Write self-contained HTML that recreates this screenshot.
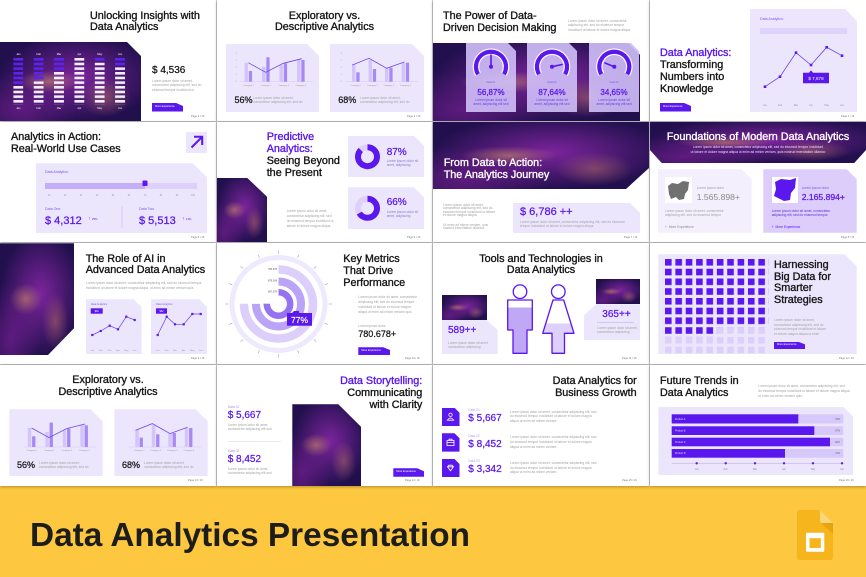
<!DOCTYPE html>
<html><head><meta charset="utf-8">
<style>
*{margin:0;padding:0;box-sizing:border-box}
html,body{width:866px;height:577px;overflow:hidden}
body{position:relative;background:#dfdfe3;font-family:"Liberation Sans",sans-serif}
body>div{position:absolute}
.s{background:#fff;box-shadow:0 1px 3px rgba(0,0,0,.3)}
.fl{background:radial-gradient(ellipse 22% 14% at 35% 50%,rgba(215,150,100,.55),rgba(215,150,100,0)),radial-gradient(ellipse 18% 25% at 75% 70%,rgba(205,130,100,.42),rgba(205,130,100,0)),radial-gradient(ellipse 55% 55% at 55% 45%,rgba(140,40,170,.85),rgba(140,40,170,0)),radial-gradient(ellipse 40% 50% at 15% 85%,rgba(110,30,140,.8),rgba(110,30,140,0)),#22104e}
.pn{background:#ece6fd}
.c8{clip-path:polygon(0 0,calc(100% - 8px) 0,100% 8px,100% 100%,0 100%)}
.c10{clip-path:polygon(0 0,calc(100% - 10px) 0,100% 10px,100% 100%,0 100%)}
.c12{clip-path:polygon(0 0,calc(100% - 12px) 0,100% 12px,100% 100%,0 100%)}
.c4{clip-path:polygon(0 0,calc(100% - 5px) 0,100% 5px,100% 100%,0 100%);background:#5a17ee}
.t{font-size:10.8px;line-height:11.8px;color:#151515;white-space:nowrap;-webkit-text-stroke:.35px #151515}
.tp{color:#5a17ee;-webkit-text-stroke-color:#5a17ee}
.tw{color:#fff;-webkit-text-stroke-color:#fff}
.lo{font-size:3.3px;line-height:4.4px;color:#a3a3a3;white-space:nowrap}
.sm{font-size:3.3px;line-height:1;color:#7b55f0;white-space:nowrap}
.v{font-size:10px;line-height:1;color:#5a17ee;white-space:nowrap;-webkit-text-stroke:.25px #5a17ee}
.k{color:#151515;-webkit-text-stroke-color:#151515}
.btn{background:#5a17ee;clip-path:polygon(0 0,78% 0,100% 35%,100% 100%,0 100%);color:#fff;font-size:2.6px;line-height:1;white-space:nowrap;padding:2.8px 0 0 3px}
.pg{font-size:2.6px;line-height:1;color:#777;white-space:nowrap}
svg{position:absolute;left:0;top:0}
</style></head><body>

<div style="left:0;top:486px;width:866px;height:91px;background:#fdc83f"></div>

<div class="s" style="left:0;top:0;width:216px;height:121px"></div>
<div class="s" style="left:217px;top:0;width:215px;height:121px"></div>
<div class="s" style="left:433px;top:0;width:216px;height:121px"></div>
<div class="s" style="left:650px;top:0;width:216px;height:121px"></div>
<div class="s" style="left:0;top:122px;width:216px;height:120px"></div>
<div class="s" style="left:217px;top:122px;width:215px;height:120px"></div>
<div class="s" style="left:433px;top:122px;width:216px;height:120px"></div>
<div class="s" style="left:650px;top:122px;width:216px;height:120px"></div>
<div class="s" style="left:0;top:243px;width:216px;height:121px"></div>
<div class="s" style="left:217px;top:243px;width:215px;height:121px"></div>
<div class="s" style="left:433px;top:243px;width:216px;height:121px"></div>
<div class="s" style="left:650px;top:243px;width:216px;height:121px"></div>
<div class="s" style="left:0;top:365px;width:216px;height:121px"></div>
<div class="s" style="left:217px;top:365px;width:215px;height:121px"></div>
<div class="s" style="left:433px;top:365px;width:216px;height:121px"></div>
<div class="s" style="left:650px;top:365px;width:216px;height:121px"></div>

<!-- Slide 1 -->
<div class="fl" style="left:0;top:42px;width:141px;height:79px;clip-path:polygon(0 0,127px 0,141px 14px,141px 79px,0 79px)"></div>
<div class="t" style="left:90px;top:10.8px;line-height:11.6px">Unlocking Insights with<br>Data Analytics</div>
<div class="v k" style="left:152px;top:65.8px">$ 4,536</div>
<div class="lo" style="left:152px;top:79px">Lorem ipsum dolor sit amet,<br>consectetur adipiscing elit, sed do<br>eiusmod tempor incididunt ut</div>
<div class="btn" style="left:152px;top:103px;width:31px;height:8.5px">More Experience</div>
<div class="pg" style="left:191px;top:115.5px">Page 1 / 16</div>

<!-- Slide 2 -->
<div class="t" style="left:217px;top:10.5px;width:215px;text-align:center">Exploratory vs.<br>Descriptive Analytics</div>
<div class="pn c12" style="left:226px;top:44px;width:93px;height:68px"></div>
<div class="pn c12" style="left:330px;top:44px;width:94px;height:68px"></div>
<div class="v k" style="left:234.5px;top:95.6px;font-size:9px">56%</div>
<div class="lo" style="left:253px;top:96px">Lorem ipsum dolor sit amet,<br>consectetur adipiscing elit, sed do</div>
<div class="v k" style="left:338.3px;top:95.6px;font-size:9px">68%</div>
<div class="lo" style="left:360px;top:96px">Lorem ipsum dolor sit amet,<br>consectetur adipiscing elit, sed do</div>
<div class="pg" style="left:407px;top:115.5px">Page 2 / 16</div>

<!-- Slide 3 -->
<div class="t" style="left:443px;top:10.2px;line-height:12px">The Power of Data-<br>Driven Decision Making</div>
<div class="lo" style="left:568px;top:18.5px;line-height:4.8px">Lorem ipsum dolor sit amet, consectetur<br>adipiscing elit, sed do eiusmod tempor<br>incididunt ut labore et dolore magna aliqua</div>
<div class="fl" style="left:433px;top:42.7px;width:207px;height:78.3px;clip-path:polygon(0 0,195px 0,207px 12px,207px 100%,0 100%)"></div>
<div class="c8" style="left:466px;top:43px;width:50px;height:69px;background:rgba(208,192,248,.9)"></div>
<div class="c8" style="left:527px;top:43px;width:50px;height:69px;background:rgba(208,192,248,.9)"></div>
<div class="c8" style="left:589px;top:43px;width:50px;height:69px;background:rgba(208,192,248,.9)"></div>
<div class="sm" style="left:466px;top:81.5px;width:50px;text-align:center;font-size:2.6px">Data 01</div>
<div class="sm" style="left:527px;top:81.5px;width:50px;text-align:center;font-size:2.6px">Data 02</div>
<div class="sm" style="left:589px;top:81.5px;width:50px;text-align:center;font-size:2.6px">Data 03</div>
<div class="v" style="left:466px;top:88.8px;width:50px;text-align:center;font-size:8px">56,87%</div>
<div class="v" style="left:527px;top:88.8px;width:50px;text-align:center;font-size:8px">87,64%</div>
<div class="v" style="left:589px;top:88.8px;width:50px;text-align:center;font-size:8px">34,65%</div>
<div class="lo" style="left:466px;top:97.5px;width:50px;text-align:center;color:#6a3cf0">Lorem ipsum dolor sit<br>amet, adipiscing elit sed</div>
<div class="lo" style="left:527px;top:97.5px;width:50px;text-align:center;color:#6a3cf0">Lorem ipsum dolor sit<br>amet, adipiscing elit sed</div>
<div class="lo" style="left:589px;top:97.5px;width:50px;text-align:center;color:#6a3cf0">Lorem ipsum dolor sit<br>amet, adipiscing elit sed</div>

<!-- Slide 4 -->
<div class="pn c12" style="left:750px;top:9px;width:107px;height:103px"></div>
<div class="sm" style="left:760px;top:18px;font-size:3.6px">Data Analytics:</div>
<div style="left:760px;top:28.3px;width:86.7px;height:6px;background:#ddd3fb"></div>
<div class="t" style="left:660px;top:47.8px;line-height:11.9px"><span class="tp">Data Analytics:</span><br>Transforming<br>Numbers into<br>Knowledge</div>
<div class="btn" style="left:660px;top:103px;width:31px;height:8.5px">More Experience</div>
<div class="pg" style="left:841px;top:115.5px">Page 4 / 16</div>

<!-- Slide 5 -->
<div class="t" style="left:11px;top:131.2px;line-height:12.3px">Analytics in Action:<br>Real-World Use Cases</div>
<div class="pn" style="left:186px;top:131.7px;width:21px;height:21px"></div>
<div class="pn" style="left:35.7px;top:163.3px;width:171.3px;height:70px;clip-path:polygon(0 0,157px 0,171.3px 14px,171.3px 70px,0 70px)"></div>
<div class="sm" style="left:45px;top:171px;font-size:3.6px">Data Analytics:</div>
<div class="sm" style="left:45px;top:207.5px;font-size:3.6px">Data One</div>
<div class="v" style="left:45px;top:215.6px;font-size:11px">$ 4,312</div>
<div class="sm" style="left:88px;top:216.5px;font-size:5px;color:#5a17ee">↑ <span style="font-size:2.8px">25%</span></div>
<div class="sm" style="left:139px;top:207.5px;font-size:3.6px">Data Two</div>
<div class="v" style="left:139px;top:215.6px;font-size:11px">$ 5,513</div>
<div class="sm" style="left:182px;top:216.5px;font-size:5px;color:#5a17ee">↑ <span style="font-size:2.8px">13%</span></div>
<div class="pg" style="left:191px;top:236.5px">Page 5 / 16</div>

<!-- Slide 6 -->
<div class="fl" style="left:217px;top:177.7px;width:50px;height:64.3px;clip-path:polygon(0 0,30px 0,50px 19px,50px 100%,0 100%)"></div>
<div class="t" style="left:266.7px;top:131.8px;line-height:11.9px"><span class="tp">Predictive<br>Analytics:</span><br>Seeing Beyond<br>the Present</div>
<div class="pn c10" style="left:347.7px;top:135.7px;width:76.3px;height:41.6px"></div>
<div class="pn c10" style="left:347.7px;top:187.3px;width:76.3px;height:42px"></div>
<div class="v" style="left:386.7px;top:147.8px">87%</div>
<div class="lo" style="left:386.7px;top:158.8px;color:#8a7ad0">Lorem ipsum dolor sit<br>amet, adipiscing</div>
<div class="v" style="left:386.7px;top:198.4px">66%</div>
<div class="lo" style="left:386.7px;top:209.5px;color:#8a7ad0">Lorem ipsum dolor sit<br>amet, adipiscing</div>
<div class="lo" style="left:286.7px;top:209px;line-height:5px">Lorem ipsum dolor sit amet,<br>consectetur adipiscing elit, sed<br>do eiusmod tempor incididunt ut<br>labore et dolore magna aliqua.</div>
<div class="pg" style="left:407px;top:236.5px">Page 6 / 16</div>

<!-- Slide 7 -->
<div class="fl" style="left:433px;top:122px;width:216px;height:67px;clip-path:polygon(0 0,216px 0,216px 46px,193px 67px,0 67px)"></div>
<div class="t tw" style="left:443.7px;top:157px;line-height:12.3px">From Data to Action:<br>The Analytics Journey</div>
<div class="lo" style="left:443px;top:203.5px;line-height:3.5px">Lorem ipsum dolor sit amet,<br>consectetur adipiscing elit, sed do<br>eiusmod tempor incididunt ut labore<br>et dolore magna aliqua.</div>
<div class="lo" style="left:443px;top:223.5px;line-height:3.5px">Ut enim ad minim veniam, quis<br>nostrud exercitation ullamco</div>
<div class="pn c10" style="left:513px;top:203px;width:127px;height:30px"></div>
<div class="v" style="left:520px;top:206.9px;font-size:11px">$ 6,786 ++</div>
<div class="lo" style="left:520px;top:219.5px">Lorem ipsum dolor sit amet, consectetur adipiscing elit, sed do eiusmod<br>tempor incididunt ut labore et dolore magna aliqua.</div>
<div class="pg" style="left:624px;top:236.5px">Page 7 / 16</div>

<!-- Slide 8 -->
<div class="fl" style="left:650px;top:122px;width:216px;height:41.3px;clip-path:polygon(0 0,216px 0,216px 28px,204px 41.3px,12px 41.3px,0 28px)"></div>
<div class="t tw" style="left:650px;top:131.5px;width:216px;text-align:center">Foundations of Modern Data Analytics</div>
<div class="lo" style="left:650px;top:145px;width:216px;text-align:center;color:#e4dcff;line-height:4.6px">Lorem ipsum dolor sit amet, consectetur adipiscing elit, sed do eiusmod tempor incididunt<br>ut labore et dolore magna aliqua ut enim ad minim veniam, quis nostrud exercitation ullamco</div>
<div class="c10" style="left:658px;top:169.3px;width:93.7px;height:63.4px;background:#f3effd"></div>
<div class="c10" style="left:763.3px;top:169.3px;width:93.4px;height:63.4px;background:#dccdfb"></div>
<div style="left:665px;top:176.7px;width:26.7px;height:26.7px;background:#fff"></div>
<div style="left:771.7px;top:176.7px;width:26.7px;height:26.7px;background:#fff"></div>
<div class="lo" style="left:696.7px;top:186px">Lorem ipsum dolor</div>
<div class="v" style="left:696.7px;top:193.2px;font-size:8.6px;color:#8a8a8a;-webkit-text-stroke:0">1.565.898+</div>
<div class="lo" style="left:801.7px;top:186px;color:#7a60d8">Lorem ipsum dolor</div>
<div class="v" style="left:801.7px;top:193.2px;font-size:8.6px">2.165.894+</div>
<div class="lo" style="left:665px;top:209px">Lorem ipsum dolor sit amet, consectetur<br>adipiscing elit, sed do eiusmod tempor</div>
<div class="lo" style="left:771.7px;top:209px;color:#5a2fd8">Lorem ipsum dolor sit amet, consectetur<br>adipiscing elit, sed do eiusmod tempor</div>
<div class="lo" style="left:665px;top:224.5px;color:#888">+ &nbsp;More Experience</div>
<div class="lo" style="left:771.7px;top:224.5px;color:#5a17ee">+ &nbsp;More Experience</div>
<div class="pg" style="left:841px;top:236.5px">Page 8 / 16</div>

<!-- Slide 9 -->
<div class="fl" style="left:0;top:243.3px;width:74px;height:111.7px;clip-path:polygon(0 0,74px 0,74px 85px,48px 111.7px,0 111.7px)"></div>
<div class="t" style="left:85.7px;top:253.5px;line-height:11.7px">The Role of AI in<br>Advanced Data Analytics</div>
<div class="lo" style="left:86px;top:281.3px;line-height:5px">Lorem ipsum dolor sit amet, consectetur adipiscing elit, sed do eiusmod tempor<br>incididunt ut labore et dolore magna aliqua, ut enim ad minim veniam quis</div>
<div class="pn c8" style="left:85.7px;top:299.3px;width:56px;height:55px"></div>
<div class="pn c8" style="left:151px;top:299.3px;width:56.3px;height:55px"></div>
<div class="sm" style="left:90.7px;top:303.5px;font-size:2.6px">Data Analytics</div>
<div class="sm" style="left:156px;top:303.5px;font-size:2.6px">Data Analytics</div>
<div class="pg" style="left:191px;top:358px">Page 9 / 16</div>

<!-- Slide 10 -->
<div class="t" style="left:343.3px;top:253.4px;line-height:12px">Key Metrics<br>That Drive<br>Performance</div>
<div class="lo" style="left:358.3px;top:294.5px;line-height:5px">Lorem ipsum dolor sit amet, consectetur<br>adipiscing elit, sed do eiusmod tempor<br>incididunt ut labore et dolore magna<br>aliqua ut enim ad minim veniam quis</div>
<div class="lo" style="left:358.3px;top:323.5px">Lorem ipsum dolor</div>
<div class="v k" style="left:358.3px;top:329.9px;font-size:9px">780.678+</div>
<div class="btn" style="left:358.3px;top:347.3px;width:32px;height:8px">More Experience</div>
<div class="pg" style="left:405px;top:358px">Page 10 / 16</div>

<!-- Slide 11 -->
<div class="t" style="left:433px;top:253.5px;width:216px;text-align:center;line-height:11.7px">Tools and Technologies in<br>Data Analytics</div>
<div class="pn" style="left:441.7px;top:320px;width:56px;height:34.3px;clip-path:polygon(0 0,45px 0,56px 10px,56px 100%,0 100%)"></div>
<div class="fl" style="left:441.7px;top:295px;width:45px;height:25px"></div>
<div class="v" style="left:448px;top:325.8px">589++</div>
<div class="lo" style="left:448px;top:340.5px">Lorem ipsum dolor sit amet,<br>consectetur adipiscing</div>
<div class="pn" style="left:584px;top:304.3px;width:56px;height:35.7px;clip-path:polygon(12px 0,100% 0,100% 100%,0 100%,0 11px)"></div>
<div class="fl" style="left:595.7px;top:279.3px;width:44.3px;height:25px"></div>
<div class="v" style="left:602.3px;top:310.1px">365++</div>
<div class="lo" style="left:597px;top:325.5px">Lorem ipsum dolor sit amet,<br>consectetur adipiscing</div>
<div class="pg" style="left:622px;top:358px">Page 11 / 16</div>

<!-- Slide 12 -->
<div class="pn c12" style="left:658.3px;top:254.3px;width:198.4px;height:100px"></div>
<div class="t" style="left:774px;top:259.8px;line-height:11.7px">Harnessing<br>Big Data for<br>Smarter<br>Strategies</div>
<div class="lo" style="left:774px;top:317.8px;line-height:4.8px">Lorem ipsum dolor sit amet,<br>consectetur adipiscing elit, sed do<br>eiusmod tempor incididunt ut labore<br>et dolore magna aliqua ut enim</div>
<div class="btn" style="left:774px;top:341.7px;width:31px;height:7.5px;padding-top:2.4px">More Experience</div>
<div class="pg" style="left:839px;top:358px">Page 12 / 16</div>

<!-- Slide 13 -->
<div class="t" style="left:0;top:375.1px;width:216px;text-align:center;line-height:11.7px">Exploratory vs.<br>Descriptive Analytics</div>
<div class="pn c12" style="left:9.3px;top:409.3px;width:93.4px;height:66.7px"></div>
<div class="pn c12" style="left:114.3px;top:409.3px;width:93.4px;height:66.7px"></div>
<div class="v k" style="left:17px;top:460.6px;font-size:9px">56%</div>
<div class="lo" style="left:39px;top:461px">Lorem ipsum dolor sit amet,<br>consectetur adipiscing elit, sed do</div>
<div class="v k" style="left:122px;top:460.6px;font-size:9px">68%</div>
<div class="lo" style="left:144px;top:461px">Lorem ipsum dolor sit amet,<br>consectetur adipiscing elit, sed do</div>
<div class="pg" style="left:188px;top:480px">Page 13 / 16</div>

<!-- Slide 14 -->
<div class="t" style="left:217px;top:375px;width:205.3px;text-align:right;line-height:12px"><span class="tp">Data Storytelling:</span><br>Communicating<br>with Clarity</div>
<div class="fl" style="left:292.3px;top:404.3px;width:68.7px;height:81.7px;clip-path:polygon(0 0,46px 0,68.7px 22.4px,68.7px 100%,0 100%)"></div>
<div class="sm" style="left:227.7px;top:406px;color:#a58ff3">Data 01</div>
<div class="v" style="left:227.7px;top:411.1px">$ 5,667</div>
<div class="lo" style="left:227.7px;top:423px">Lorem ipsum dolor sit amet,<br>consectetur adipiscing elit sed</div>
<div class="sm" style="left:227.7px;top:450px;color:#a58ff3">Data 02</div>
<div class="v" style="left:227.7px;top:455px">$ 8,452</div>
<div class="lo" style="left:227.7px;top:467px">Lorem ipsum dolor sit amet,<br>consectetur adipiscing elit sed</div>
<div class="btn" style="left:393.3px;top:468.3px;width:30.7px;height:8.4px">More Experience</div>
<div class="pg" style="left:405px;top:480px">Page 14 / 16</div>

<!-- Slide 15 -->
<div class="t" style="left:433px;top:375px;width:203.7px;text-align:right;line-height:12px">Data Analytics for<br>Business Growth</div>
<div class="c4" style="left:441.5px;top:407.7px;width:18px;height:18.3px"></div>
<div class="c4" style="left:441.5px;top:433.3px;width:18px;height:18.3px"></div>
<div class="c4" style="left:441.5px;top:459px;width:18px;height:18.3px"></div>
<div class="sm" style="left:468.3px;top:409px;color:#b4a2f3">Data 01</div>
<div class="v" style="left:468.3px;top:414.3px">$ 5,667</div>
<div class="sm" style="left:468.3px;top:434.7px;color:#b4a2f3">Data 02</div>
<div class="v" style="left:468.3px;top:440px">$ 8,452</div>
<div class="sm" style="left:468.3px;top:460.3px;color:#b4a2f3">Data 03</div>
<div class="v" style="left:468.3px;top:465.4px">$ 3,342</div>
<div class="lo" style="left:510px;top:409.5px;line-height:4.8px">Lorem ipsum dolor sit amet, consectetur adipiscing elit, sed<br>do eiusmod tempor incididunt ut labore et dolore magna<br>aliqua ut enim ad minim veniam</div>
<div class="lo" style="left:510px;top:435.2px;line-height:4.8px">Lorem ipsum dolor sit amet, consectetur adipiscing elit, sed<br>do eiusmod tempor incididunt ut labore et dolore magna<br>aliqua ut enim ad minim veniam</div>
<div class="lo" style="left:510px;top:460.8px;line-height:4.8px">Lorem ipsum dolor sit amet, consectetur adipiscing elit, sed<br>do eiusmod tempor incididunt ut labore et dolore magna<br>aliqua ut enim ad minim veniam</div>
<div class="pg" style="left:622px;top:480px">Page 15 / 16</div>

<!-- Slide 16 -->
<div class="t" style="left:660px;top:375px;line-height:12px">Future Trends in<br>Data Analytics</div>
<div class="lo" style="left:758.3px;top:384px;line-height:5px">Lorem ipsum dolor sit amet, consectetur adipiscing elit, sed<br>do eiusmod tempor incididunt ut labore et dolore magna aliqua<br>ut enim ad minim veniam quis</div>
<div class="pn c10" style="left:658.3px;top:406.7px;width:195px;height:68.5px"></div>
<div class="pg" style="left:839px;top:480px">Page 16 / 16</div>

<svg width="866" height="577" viewBox="0 0 866 577" font-family="Liberation Sans, sans-serif">
<defs>
<pattern id="pw" x="13.3" y="58" width="20.35" height="4.67" patternUnits="userSpaceOnUse"><rect width="10" height="2.6" fill="#f2eeff"/></pattern>
<pattern id="pp" x="13.3" y="58" width="20.35" height="4.67" patternUnits="userSpaceOnUse"><rect width="10" height="2.6" fill="#5b22f0"/></pattern>
<pattern id="gp" x="665" y="259" width="10.37" height="9.74" patternUnits="userSpaceOnUse"><rect width="6.6" height="6.6" fill="#5a17ee"/></pattern>
<pattern id="gl" x="665" y="259" width="10.37" height="9.74" patternUnits="userSpaceOnUse"><rect width="6.6" height="6.6" fill="#dcd0fb"/></pattern>
<linearGradient id="mf" x1="0" y1="0" x2="0" y2="1"><stop offset=".145" stop-color="#fff"/><stop offset=".145" stop-color="#c0a8f7"/></linearGradient>
<linearGradient id="wf" x1="0" y1="0" x2="0" y2="1"><stop offset=".44" stop-color="#fff"/><stop offset=".44" stop-color="#ddd0fb"/></linearGradient>
</defs>

<rect x="13.3" y="58" width="10" height="28.02" fill="url(#pp)"/><rect x="13.3" y="86.02" width="10" height="18.68" fill="url(#pw)"/>
<rect x="33.65" y="58" width="10" height="23.35" fill="url(#pp)"/><rect x="33.65" y="81.35" width="10" height="23.35" fill="url(#pw)"/>
<rect x="54" y="58" width="10" height="14.01" fill="url(#pp)"/><rect x="54" y="72.01" width="10" height="32.69" fill="url(#pw)"/>
<rect x="74.35" y="58" width="10" height="46.7" fill="url(#pw)"/>
<rect x="94.7" y="58" width="10" height="4.67" fill="url(#pp)"/><rect x="94.7" y="62.67" width="10" height="42.03" fill="url(#pw)"/>
<rect x="115.05" y="58" width="10" height="9.34" fill="url(#pp)"/><rect x="115.05" y="67.34" width="10" height="37.36" fill="url(#pw)"/>
<g font-size="2.6" fill="#fff" text-anchor="middle">
<text x="18.3" y="55">Jan</text><text x="38.65" y="55">Feb</text><text x="59" y="55">Mar</text><text x="79.35" y="55">Apr</text><text x="99.7" y="55">May</text><text x="120.05" y="55">Jun</text>
<text x="18.3" y="109">Jan</text><text x="38.65" y="109">Feb</text><text x="59" y="109">Mar</text><text x="79.35" y="109">Apr</text><text x="99.7" y="109">May</text><text x="120.05" y="109">Jun</text>
</g>

<g>
<g stroke="#cfc3f5" stroke-width=".4"><line x1="240" y1="81.7" x2="313" y2="81.7"/><line x1="345" y1="81.7" x2="418" y2="81.7"/></g>
<g fill="#d3c4fa">
<rect x="244.5" y="62.7" width="3.5" height="19"/><rect x="262" y="66.7" width="3.5" height="15"/><rect x="279.5" y="65" width="3.5" height="16.7"/><rect x="297" y="59.3" width="3.5" height="22.4"/>
<rect x="352" y="64.3" width="3.5" height="17.4"/><rect x="368.5" y="60" width="3.5" height="21.7"/><rect x="385" y="68.3" width="3.5" height="13.4"/><rect x="401.5" y="62.7" width="3.5" height="19"/>
</g>
<g fill="#a689f5">
<rect x="248.8" y="71" width="3.3" height="10.7"/><rect x="266.3" y="57.3" width="3.3" height="24.4"/><rect x="283.8" y="63.3" width="3.3" height="18.4"/><rect x="301.3" y="60" width="3.3" height="21.7"/>
<rect x="356.3" y="72.3" width="3.3" height="9.4"/><rect x="372.8" y="69" width="3.3" height="12.7"/><rect x="389.3" y="67.7" width="3.3" height="14"/><rect x="405.8" y="62.7" width="3.3" height="19"/>
</g>
<g fill="none" stroke="#6f45ee" stroke-width=".8">
<polyline points="248.3,62.7 265.7,72.3 283.3,63.3 301.7,58.7"/>
<polyline points="352.3,65 369,58.3 386.7,68.3 404.3,62"/>
</g>
<g font-size="2.2" fill="#999" text-anchor="middle">
<text x="248.5" y="85.8">Category 1</text><text x="266" y="85.8">Category 2</text><text x="283.5" y="85.8">Category 3</text><text x="301" y="85.8">Category 4</text>
<text x="356" y="85.8">Category 1</text><text x="372.5" y="85.8">Category 2</text><text x="389" y="85.8">Category 3</text><text x="405.5" y="85.8">Category 4</text>
</g>
<g font-size="2.2" fill="#aaa" text-anchor="end">
<text x="237" y="54">8</text><text x="237" y="61">6</text><text x="237" y="68">4</text><text x="237" y="75">2</text><text x="237" y="82">0</text>
<text x="342" y="54">8</text><text x="342" y="61">6</text><text x="342" y="68">4</text><text x="342" y="75">2</text><text x="342" y="82">0</text>
</g>
</g>

<g transform="translate(-216.7,365.3)">
<g stroke="#cfc3f5" stroke-width=".4"><line x1="240" y1="81.7" x2="313" y2="81.7"/><line x1="345" y1="81.7" x2="418" y2="81.7"/></g>
<g fill="#d3c4fa">
<rect x="244.5" y="62.7" width="3.5" height="19"/><rect x="262" y="66.7" width="3.5" height="15"/><rect x="279.5" y="65" width="3.5" height="16.7"/><rect x="297" y="59.3" width="3.5" height="22.4"/>
<rect x="352" y="64.3" width="3.5" height="17.4"/><rect x="368.5" y="60" width="3.5" height="21.7"/><rect x="385" y="68.3" width="3.5" height="13.4"/><rect x="401.5" y="62.7" width="3.5" height="19"/>
</g>
<g fill="#a689f5">
<rect x="248.8" y="71" width="3.3" height="10.7"/><rect x="266.3" y="57.3" width="3.3" height="24.4"/><rect x="283.8" y="63.3" width="3.3" height="18.4"/><rect x="301.3" y="60" width="3.3" height="21.7"/>
<rect x="356.3" y="72.3" width="3.3" height="9.4"/><rect x="372.8" y="69" width="3.3" height="12.7"/><rect x="389.3" y="67.7" width="3.3" height="14"/><rect x="405.8" y="62.7" width="3.3" height="19"/>
</g>
<g fill="none" stroke="#6f45ee" stroke-width=".8">
<polyline points="248.3,62.7 265.7,72.3 283.3,63.3 301.7,58.7"/>
<polyline points="352.3,65 369,58.3 386.7,68.3 404.3,62"/>
</g>
<g font-size="2.2" fill="#999" text-anchor="middle">
<text x="248.5" y="85.8">Category 1</text><text x="266" y="85.8">Category 2</text><text x="283.5" y="85.8">Category 3</text><text x="301" y="85.8">Category 4</text>
<text x="356" y="85.8">Category 1</text><text x="372.5" y="85.8">Category 2</text><text x="389" y="85.8">Category 3</text><text x="405.5" y="85.8">Category 4</text>
</g>
</g>

<g fill="none" stroke-linecap="butt">
<path d="M478,74.2 A15 15 0 1 1 504,74.2" stroke="#fff" stroke-width="6.5"/>
<path d="M478,74.2 A15 15 0 1 1 504,74.2" stroke="#5a17ee" stroke-width="4.2"/>
<path d="M539,74.2 A15 15 0 1 1 565,74.2" stroke="#fff" stroke-width="6.5"/>
<path d="M539,74.2 A15 15 0 1 1 565,74.2" stroke="#5a17ee" stroke-width="4.2"/>
<path d="M601.3,74.2 A15 15 0 1 1 627.3,74.2" stroke="#fff" stroke-width="6.5"/>
<path d="M601.3,74.2 A15 15 0 1 1 627.3,74.2" stroke="#5a17ee" stroke-width="4.2"/>
</g>
<g stroke="#5a17ee" stroke-width="1.6" stroke-linecap="round">
<line x1="491" y1="66.7" x2="491" y2="55"/>
<line x1="552" y1="66.7" x2="562" y2="64.5"/>
<line x1="614.3" y1="66.7" x2="605" y2="63"/>
</g>
<g fill="#5a17ee"><circle cx="491" cy="66.7" r="2"/><circle cx="552" cy="66.7" r="2"/><circle cx="614.3" cy="66.7" r="2"/></g>

<polyline points="765,86.7 780,76.7 796,52.7 811,65 826.7,47.3 842,55.7" fill="none" stroke="#6c3ff0" stroke-width=".8"/>
<g fill="#5a17ee">
<rect x="763.7" y="85.4" width="2.6" height="2.6"/><rect x="778.7" y="75.4" width="2.6" height="2.6"/><rect x="794.7" y="51.4" width="2.6" height="2.6"/><rect x="809.7" y="63.7" width="2.6" height="2.6"/><rect x="825.4" y="46" width="2.6" height="2.6"/><rect x="840.7" y="54.4" width="2.6" height="2.6"/>
<path d="M803,72.7 H809 L811,70.2 L813,72.7 H829 V83.3 H803 Z"/>
</g>
<text x="816" y="79.9" font-size="4.6" fill="#fff" text-anchor="middle">$ 7,678</text>
<g font-size="2.5" fill="#999" text-anchor="middle">
<text x="765" y="106">Jan</text><text x="780" y="106">Feb</text><text x="796" y="106">Mar</text><text x="811" y="106">Apr</text><text x="826.7" y="106">May</text><text x="842" y="106">Jun</text>
</g>

<path d="M191.5,147.5 L201.5,137.5 M194,136.8 H202.2 V145" stroke="#5a17ee" stroke-width="2" fill="none"/>
<rect x="45" y="183" width="152" height="6" fill="#ddd0fb"/>
<rect x="45" y="183" width="100" height="6" fill="#c4aef8"/>
<rect x="142.5" y="180.5" width="5" height="5.5" rx=".8" fill="#5a17ee"/>
<g font-size="2.3" fill="#999" text-anchor="middle">
<text x="49" y="196">10</text><text x="65" y="196">20</text><text x="81" y="196">30</text><text x="97" y="196">40</text><text x="113" y="196">50</text><text x="129" y="196">60</text><text x="145" y="196">70</text><text x="161" y="196">80</text><text x="177" y="196">90</text><text x="193" y="196">100</text>
</g>
<line x1="122" y1="206" x2="122" y2="228" stroke="#c9b9f3" stroke-width=".6"/>

<circle cx="367.5" cy="156.7" r="9.5" fill="none" stroke="#ddd0fb" stroke-width="6"/>
<circle cx="367.5" cy="156.7" r="9.5" fill="none" stroke="#5a17ee" stroke-width="6" stroke-dasharray="51.9 60" transform="rotate(-90 367.5 156.7)"/>
<circle cx="367.5" cy="208.3" r="9.5" fill="none" stroke="#ddd0fb" stroke-width="6"/>
<circle cx="367.5" cy="208.3" r="9.5" fill="none" stroke="#5a17ee" stroke-width="6" stroke-dasharray="39.4 60" transform="rotate(-90 367.5 208.3)"/>

<path d="M668,186 L672,183 L678,184 L683,181 L689,182 L688,190 L685,194 L684,199 L679,200 L676,197 L671,199 L669,194 Z" fill="#707070"/>
<path d="M775,182 L781,179 L790,180 L796,178 L795,188 L791,193 L790,200 L784,201 L778,198 L774,196 L776,189 Z" fill="#5a17ee"/>

<g fill="none" stroke="#6c3ff0" stroke-width=".7">
<polyline points="92.3,335 100.7,331 109.7,325.7 118,329.3 126.3,316.7 134.7,320"/>
<polyline points="157.7,335 166.7,316.7 175,324.3 183.7,324.3 192.3,314 200.7,314"/>
</g>
<g fill="#5a17ee">
<rect x="91.2" y="333.9" width="2.2" height="2.2"/><rect x="99.6" y="329.9" width="2.2" height="2.2"/><rect x="108.6" y="324.6" width="2.2" height="2.2"/><rect x="116.9" y="328.2" width="2.2" height="2.2"/><rect x="125.2" y="315.6" width="2.2" height="2.2"/><rect x="133.6" y="318.9" width="2.2" height="2.2"/>
<rect x="156.6" y="333.9" width="2.2" height="2.2"/><rect x="165.6" y="315.6" width="2.2" height="2.2"/><rect x="173.9" y="323.2" width="2.2" height="2.2"/><rect x="182.6" y="323.2" width="2.2" height="2.2"/><rect x="191.2" y="312.9" width="2.2" height="2.2"/><rect x="199.6" y="312.9" width="2.2" height="2.2"/>
<rect x="90.7" y="308.3" width="12" height="5.4"/><rect x="156" y="308.3" width="11" height="5.4"/>
</g>
<g font-size="2.4" fill="#fff" text-anchor="middle"><text x="96.7" y="312">$40</text><text x="161.5" y="312">$52</text></g>
<g font-size="2.2" fill="#999" text-anchor="middle">
<text x="92.3" y="351">Jan</text><text x="100.7" y="351">Feb</text><text x="109.7" y="351">Mar</text><text x="118" y="351">Apr</text><text x="126.3" y="351">May</text><text x="134.7" y="351">Jun</text>
<text x="157.7" y="351">Jan</text><text x="166.7" y="351">Feb</text><text x="175" y="351">Mar</text><text x="183.7" y="351">Apr</text><text x="192.3" y="351">May</text><text x="200.7" y="351">Jun</text>
</g>

<circle cx="278.5" cy="304" r="46.5" fill="none" stroke="#efe9fd" stroke-width="5"/>
<g transform="translate(278.5,304)" stroke="#b4abc9" stroke-width=".7">
<line y1="-50" y2="-53.5"/><line y1="-50" y2="-53.5" transform="rotate(22.5)"/><line y1="-50" y2="-53.5" transform="rotate(45)"/><line y1="-50" y2="-53.5" transform="rotate(67.5)"/><line y1="-50" y2="-53.5" transform="rotate(90)"/><line y1="-50" y2="-53.5" transform="rotate(112.5)"/><line y1="-50" y2="-53.5" transform="rotate(135)"/><line y1="-50" y2="-53.5" transform="rotate(157.5)"/><line y1="-50" y2="-53.5" transform="rotate(180)"/><line y1="-50" y2="-53.5" transform="rotate(202.5)"/><line y1="-50" y2="-53.5" transform="rotate(225)"/><line y1="-50" y2="-53.5" transform="rotate(247.5)"/><line y1="-50" y2="-53.5" transform="rotate(270)"/><line y1="-50" y2="-53.5" transform="rotate(292.5)"/><line y1="-50" y2="-53.5" transform="rotate(315)"/><line y1="-50" y2="-53.5" transform="rotate(337.5)"/>
</g>
<circle cx="278.5" cy="304" r="34.5" fill="none" stroke="#dccffb" stroke-width="8.5" stroke-dasharray="162.6 300" transform="rotate(-90 278.5 304)"/>
<circle cx="278.5" cy="304" r="22.5" fill="none" stroke="#bba4f7" stroke-width="8" stroke-dasharray="106 300" transform="rotate(-90 278.5 304)"/>
<circle cx="278.5" cy="304" r="11.7" fill="none" stroke="#9472f0" stroke-width="6.5" stroke-dasharray="55.1 300" transform="rotate(-90 278.5 304)"/>
<g font-size="2.5" fill="#555" text-anchor="end"><text x="277" y="269.8">780,678</text><text x="277" y="281.3">879,004</text><text x="277" y="292.4">687,578</text></g>
<path d="M287,313 H292 L294,311 H299 V313 H312 V325.7 H287 Z" fill="#5a17ee"/>
<text x="299.5" y="322.8" font-size="8.5" fill="#fff" text-anchor="middle" stroke="#fff" stroke-width=".2">77%</text>

<circle cx="520" cy="291.7" r="6.8" fill="#fff" stroke="#5a17ee" stroke-width="1.3"/>
<path d="M507.7,300 H532.3 V330 H527 V353.3 H513 V330 H507.7 Z" fill="url(#mf)" stroke="#5a17ee" stroke-width="1.3" stroke-linejoin="round"/>
<circle cx="558.3" cy="291.7" r="6.8" fill="#fff" stroke="#5a17ee" stroke-width="1.3"/>
<path d="M553,300 H563.7 L574,333.3 H564.5 V353.3 H552 V333.3 H542.7 Z" fill="url(#wf)" stroke="#5a17ee" stroke-width="1.3" stroke-linejoin="round"/>
<line x1="597" y1="322.7" x2="634" y2="322.7" stroke="#b9a5f5" stroke-width=".5"/>

<rect x="665" y="259" width="103.7" height="68.18" fill="url(#gp)"/>
<rect x="665" y="327.18" width="51.85" height="9.74" fill="url(#gp)"/>
<rect x="716.85" y="327.18" width="51.85" height="9.74" fill="url(#gl)"/>
<rect x="665" y="336.92" width="103.7" height="19.48" fill="url(#gl)"/>

<line x1="227.7" y1="441.7" x2="281" y2="441.7" stroke="#ddd" stroke-width=".6"/>

<g fill="none" stroke="#fff" stroke-width=".8">
<circle cx="450.5" cy="414.8" r="1.7"/><path d="M447.3,420.2 Q450.5,415.8 453.7,420.2 Z"/>
<rect x="447" y="440.5" width="7" height="5"/><path d="M449,440.5 V439.2 H452 V440.5 M447,442.5 H454"/>
<path d="M447.5,466.8 L449,465.2 H452 L453.5,466.8 L450.5,470.8 Z M447.5,466.8 H453.5"/>
</g>

<g fill="#d6c8fb">
<rect x="671.7" y="414.3" width="171.6" height="9.2"/><rect x="671.7" y="426.3" width="171.6" height="8.7"/><rect x="671.7" y="437.7" width="171.6" height="8.6"/><rect x="671.7" y="449" width="171.6" height="8.7"/>
</g>
<g fill="#5a17ee">
<rect x="671.7" y="414.3" width="126.6" height="9.2"/><rect x="671.7" y="426.3" width="142.6" height="8.7"/><rect x="671.7" y="437.7" width="158.3" height="8.6"/><rect x="671.7" y="449" width="113.3" height="8.7"/>
</g>
<g font-size="2.4" fill="#e9e2ff"><text x="675" y="419.8">Product A</text><text x="675" y="431.5">Product B</text><text x="675" y="442.9">Product C</text><text x="675" y="454.2">Product D</text></g>
<g font-size="2.4" fill="#666" text-anchor="end"><text x="840" y="419.8">78%</text><text x="840" y="431.5">87%</text><text x="840" y="442.9">96%</text><text x="840" y="454.2">70%</text></g>
<line x1="671.7" y1="463.3" x2="843.3" y2="463.3" stroke="#b9a5f5" stroke-width=".5"/>
<g fill="#5a17ee"><circle cx="696.7" cy="463.3" r="1.2"/><circle cx="725.7" cy="463.3" r="1.2"/><circle cx="755" cy="463.3" r="1.2"/><circle cx="784" cy="463.3" r="1.2"/><circle cx="813" cy="463.3" r="1.2"/><circle cx="842" cy="463.3" r="1.2"/></g>
<g font-size="2.4" fill="#888" text-anchor="middle"><text x="696.7" y="470">Jan</text><text x="725.7" y="470">Feb</text><text x="755" y="470">Mar</text><text x="784" y="470">Apr</text><text x="813" y="470">May</text><text x="842" y="470">Jun</text></g>

<text x="30" y="546" font-size="33" font-weight="bold" fill="#1d1d1b" textLength="440" lengthAdjust="spacingAndGlyphs">Data Analytics Presentation</text>
<path d="M800,510 H820 L833,523 V557 Q833,560 830,560 H800 Q797,560 797,557 V513 Q797,510 800,510 Z" fill="#f6b51c"/>
<path d="M821,523 H833 V534 Z" fill="#e9a30e"/>
<path d="M820,510 L833,523 H822 Q820,523 820,521 Z" fill="#fad57a"/>
<rect x="806" y="532.7" width="18.3" height="19" rx=".8" fill="#fff"/>
<rect x="809.5" y="538.2" width="11.3" height="9.8" fill="#f6b51c"/>
</svg>
</body></html>
